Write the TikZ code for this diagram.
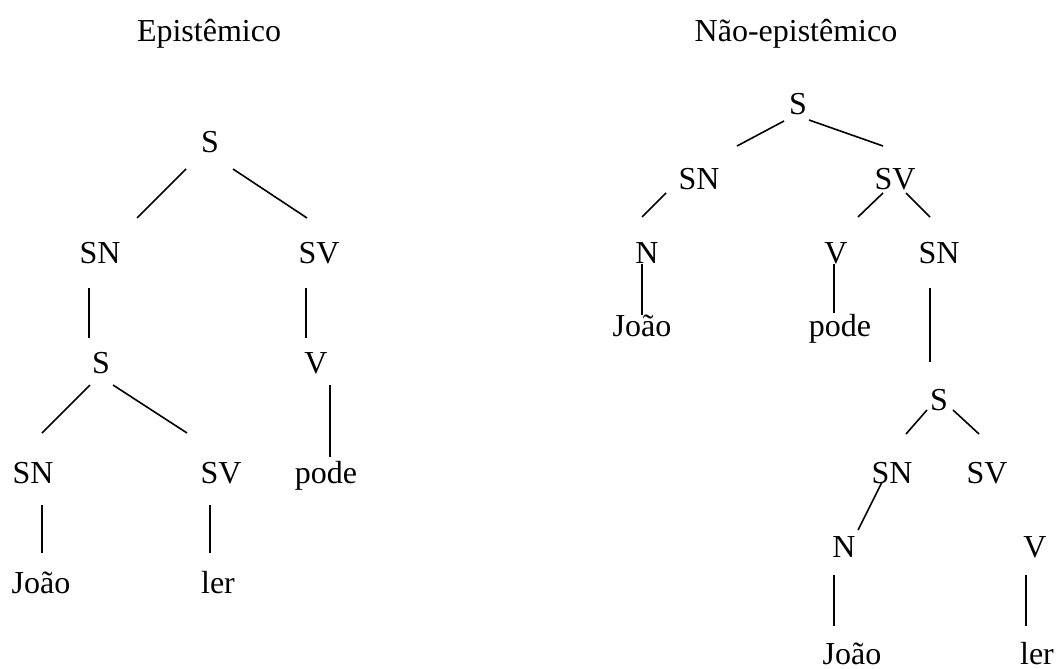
\documentclass[tikz,border=0pt]{standalone}
\usepackage{fontspec}
\setmainfont{Liberation Serif}

\begin{document}
\begin{tikzpicture}[
  x=0.5pt, y=-0.5pt,
  lbl/.style={anchor=base, inner sep=0pt, font=\fontsize{16}{19}\selectfont},
  branch/.style={line width=0.8pt}
]
\useasboundingbox (0,0) rectangle (1058,668);

% left tree
\node[lbl] (eTitle) at (209,42) {Epistêmico};
\node[lbl] (eS)    at (210,153) {S};
\node[lbl] (eSN)   at (100,263) {SN};
\node[lbl] (eSV)   at (319,263) {SV};
\node[lbl] (eS2)   at (101,373) {S};
\node[lbl] (eV)    at (316,373) {V};
\node[lbl] (eSN2)  at (33,483)  {SN};
\node[lbl] (eSV2)  at (221,483) {SV};
\node[lbl] (ePode) at (326,483) {pode};
\node[lbl] (eJoao) at (41,593)  {João};
\node[lbl] (eLer)  at (218,593) {ler};

\draw[branch] ([shift={(-24,16)}]eS.base) -- ([shift={(37,-45)}]eSN.base);
\draw[branch] ([shift={(23,16)}]eS.base) -- ([shift={(-12,-45)}]eSV.base);
\draw[branch] ([shift={(-11,25)}]eSN.base) -- ([shift={(-12,-35)}]eS2.base);
\draw[branch] ([shift={(-13,25)}]eSV.base) -- ([shift={(-10,-35)}]eV.base);
\draw[branch] ([shift={(-11,12)}]eS2.base) -- ([shift={(9,-50)}]eSN2.base);
\draw[branch] ([shift={(12,12)}]eS2.base) -- ([shift={(-34,-50)}]eSV2.base);
\draw[branch] ([shift={(14,12)}]eV.base) -- ([shift={(4,-26)}]ePode.base);
\draw[branch] ([shift={(9,22)}]eSN2.base) -- ([shift={(1,-40)}]eJoao.base);
\draw[branch] ([shift={(-11,22)}]eSV2.base) -- ([shift={(-8,-40)}]eLer.base);

% right tree
\node[lbl] (nTitle) at (796,42)  {Não-epistêmico};
\node[lbl] (nS)     at (798,115) {S};
\node[lbl] (nSN)    at (699,190) {SN};
\node[lbl] (nSV)    at (895,190) {SV};
\node[lbl] (nN)     at (647,263) {N};
\node[lbl] (nV)     at (836,263) {V};
\node[lbl] (nSN2)   at (939,263) {SN};
\node[lbl] (nJoao)  at (642,336) {João};
\node[lbl] (nPode)  at (840,336) {pode};
\node[lbl] (nS2)    at (939,410) {S};
\node[lbl] (nSN3)   at (892,483) {SN};
\node[lbl] (nSV3)   at (987,483) {SV};
\node[lbl] (nN2)    at (844,557) {N};
\node[lbl] (nV2)    at (1035,557) {V};
\node[lbl] (nJoao2) at (852,664) {João};
\node[lbl] (nLer)   at (1037,664) {ler};

\draw[branch] ([shift={(-14,6)}]nS.base) -- ([shift={(38,-44)}]nSN.base);
\draw[branch] ([shift={(11,5)}]nS.base) -- ([shift={(-12,-44)}]nSV.base);
\draw[branch] ([shift={(-33,3)}]nSN.base) -- ([shift={(-5,-46)}]nN.base);
\draw[branch] ([shift={(-12,3)}]nSV.base) -- ([shift={(22,-46)}]nV.base);
\draw[branch] ([shift={(11,3)}]nSV.base) -- ([shift={(-9,-46)}]nSN2.base);
\draw[branch] ([shift={(-5,1)}]nN.base) -- ([shift={(0,-21)}]nJoao.base);
\draw[branch] ([shift={(-2,1)}]nV.base) -- ([shift={(-6,-23)}]nPode.base);
\draw[branch] ([shift={(-9,25)}]nSN2.base) -- ([shift={(-9,-48)}]nS2.base);
\draw[branch] ([shift={(-12,0)}]nS2.base) -- ([shift={(14,-49)}]nSN3.base);
\draw[branch] ([shift={(14,0)}]nS2.base) -- ([shift={(-8,-49)}]nSV3.base);
\draw[branch] ([shift={(-10,-1)}]nSN3.base) -- ([shift={(14,-27)}]nN2.base);
\draw[branch] ([shift={(-10,18)}]nN2.base) -- ([shift={(-18,-38)}]nJoao2.base);
\draw[branch] ([shift={(-9,18)}]nV2.base) -- ([shift={(-11,-38)}]nLer.base);
\end{tikzpicture}
\end{document}
